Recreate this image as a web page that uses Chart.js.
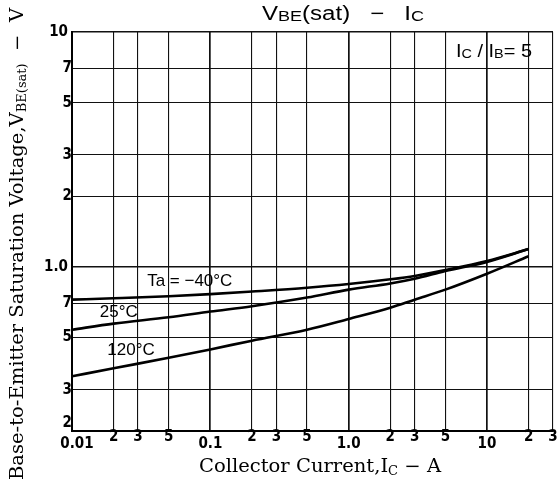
<!DOCTYPE html>
<html>
<head>
<meta charset="utf-8">
<script src="https://cdn.jsdelivr.net/npm/chart.js@4.4.0/dist/chart.umd.min.js"></script>
<style>
  html, body { margin: 0; padding: 0; background: #fff; }
</style>
</head>
<body>
<canvas id="myChart" width="560" height="490"></canvas>
<script>
// collector current (A) and VBE(sat) (V)
const currents = [0.01, 0.02, 0.05, 0.1, 0.2, 0.5, 1, 2, 3, 5, 10, 20];
const vbeMinus40 = [0.725, 0.735, 0.75, 0.765, 0.785, 0.815, 0.845, 0.885, 0.915, 0.97, 1.06, 1.19];
const vbe25 = [0.54, 0.573, 0.61, 0.645, 0.68, 0.74, 0.80, 0.85, 0.89, 0.96, 1.05, 1.19];
const vbe120 = [0.342, 0.37, 0.41, 0.445, 0.485, 0.54, 0.60, 0.67, 0.725, 0.80, 0.935, 1.11];

const xTicks = [0.01, 0.02, 0.03, 0.05, 0.1, 0.2, 0.3, 0.5, 1, 2, 3, 5, 10, 20, 30];
const xTickLabels = ['0.01', '2', '3', '5', '0.1', '2', '3', '5', '1.0', '2', '3', '5', '10', '2', '3'];
const yTicks = [0.2, 0.3, 0.5, 0.7, 1, 2, 3, 5, 7, 10];
const yTickLabels = ['2', '3', '5', '7', '1.0', '2', '3', '5', '7', '10'];
const decades = [0.01, 0.1, 1, 10];

const curveNames = ['Ta = \u221240\u00b0C', '25\u00b0C', '120\u00b0C'];
const curveNameAt = [[0.071, 0.865], [0.0218, 0.638], [0.0267, 0.44]];

function toPoints(ys) {
  return currents.map((c, i) => ({ x: c, y: ys[i] }));
}

const lineStyle = {
  borderColor: '#000',
  borderWidth: 2.6,
  pointRadius: 0,
  tension: 0.4,
  cubicInterpolationMode: 'monotone',
  fill: false
};

// draws text pieces, some smaller and lowered (subscripts);
// if width is given the whole run is stretched sideways to it
function drawParts(ctx, parts, x, y, align, width) {
  let total = 0;
  parts.forEach(p => { ctx.font = p.font; total += ctx.measureText(p.t).width; });
  const k = width ? width / total : 1;
  ctx.save();
  ctx.translate(x, y);
  ctx.scale(k, 1);
  let cx = align === 'center' ? -total / 2 : 0;
  parts.forEach(p => {
    ctx.font = p.font;
    ctx.fillText(p.t, cx, p.dy || 0);
    cx += ctx.measureText(p.t).width;
  });
  ctx.restore();
}

const textPlugin = {
  id: 'texts',
  afterDraw(chart) {
    const ctx = chart.ctx;
    const xs = chart.scales.x, ys = chart.scales.y;
    const area = chart.chartArea;
    ctx.save();
    ctx.fillStyle = '#000';
    ctx.textBaseline = 'middle';

    // tick labels
    ctx.font = 'bold 15px "DejaVu Sans Condensed", "DejaVu Sans", sans-serif';
    ctx.textAlign = 'center';
    xTicks.forEach((v, i) => {
      const px = xs.getPixelForValue(v);
      const major = decades.includes(v);
      ctx.fillText(xTickLabels[i], px + (i === 0 ? 5 : 0), major ? area.bottom + 13 : area.bottom + 6);
    });
    ctx.textAlign = 'right';
    yTicks.forEach((v, i) => {
      const py = ys.getPixelForValue(v);
      ctx.fillText(yTickLabels[i], area.left + (yTickLabels[i].length > 1 ? -4 : 0), py + (i === 0 ? -8 : 0));
    });

    ctx.textAlign = 'left';
    ctx.textBaseline = 'alphabetic';

    // title
    const big = '20px "Liberation Sans", Arial, sans-serif';
    const small = '15px "Liberation Sans", Arial, sans-serif';
    drawParts(ctx, [
      { t: 'V', font: big }, { t: 'BE', font: small, dy: 1 }, { t: '(sat)   \u2212   I', font: big },
      { t: 'C', font: small, dy: 1 }
    ], 343, 20, 'center', 162);

    // ratio note
    const mid = '18px "Liberation Sans", Arial, sans-serif';
    const sub = '13px "Liberation Sans", Arial, sans-serif';
    drawParts(ctx, [
      { t: 'I', font: mid }, { t: 'C', font: sub, dy: 1 }, { t: ' / I', font: mid },
      { t: 'B', font: sub, dy: 1 }, { t: '= 5', font: mid }
    ], 456, 57, 'left', 76);

    // curve names
    ctx.font = '17px "Liberation Sans", Arial, sans-serif';
    ctx.textAlign = 'center';
    ctx.textBaseline = 'middle';
    curveNames.forEach((n, i) => {
      const px = xs.getPixelForValue(curveNameAt[i][0]);
      const py = ys.getPixelForValue(curveNameAt[i][1]);
      ctx.fillText(n, px, py);
    });
    ctx.textAlign = 'left';
    ctx.textBaseline = 'alphabetic';

    // axis titles
    const serif = '18px "DejaVu Serif", "Liberation Serif", serif';
    const serifSub = '12px "DejaVu Serif", "Liberation Serif", serif';
    drawParts(ctx, [
      { t: 'Collector Current,I', font: serif }, { t: 'C', font: serifSub, dy: 3 },
      { t: ' \u2212 A', font: serif }
    ], 320, 472, 'center', 242);

    ctx.translate(23, 244);
    ctx.rotate(-Math.PI / 2);
    drawParts(ctx, [
      { t: 'Base-to-Emitter Saturation Voltage,V', font: serif },
      { t: 'BE(sat)', font: serifSub, dy: 3 }, { t: '  \u2212  V', font: serif }
    ], 0, 0, 'center', 472);
    ctx.restore();
  }
};

new Chart(document.getElementById('myChart').getContext('2d'), {
  type: 'line',
  data: {
    datasets: [
      Object.assign({ label: '-40', data: toPoints(vbeMinus40) }, lineStyle),
      Object.assign({ label: '25', data: toPoints(vbe25) }, lineStyle),
      Object.assign({ label: '120', data: toPoints(vbe120) }, lineStyle)
    ]
  },
  options: {
    responsive: false,
    animation: false,
    devicePixelRatio: 1,
    layout: { padding: { left: 72, top: 32, right: 7, bottom: 59 } },
    plugins: { legend: { display: false }, tooltip: { enabled: false } },
    scales: {
      x: {
        type: 'logarithmic',
        min: 0.01, max: 30,
        afterBuildTicks: s => { s.ticks = xTicks.map(v => ({ value: v })); },
        ticks: { display: false },
        grid: {
          color: '#111',
          drawTicks: false,
          lineWidth: c => (c.tick && decades.includes(c.tick.value)) ? 1.7 : 1.1
        },
        border: { color: '#000', width: 2 }
      },
      y: {
        type: 'logarithmic',
        min: 0.2, max: 10,
        afterBuildTicks: s => { s.ticks = yTicks.map(v => ({ value: v })); },
        ticks: { display: false },
        grid: {
          color: '#111',
          drawTicks: false,
          lineWidth: c => (c.tick && (c.tick.value === 1 || c.tick.value === 10)) ? 1.5 : 1.1
        },
        border: { color: '#000', width: 2 }
      }
    }
  },
  plugins: [textPlugin]
});
</script>
</body>
</html>
